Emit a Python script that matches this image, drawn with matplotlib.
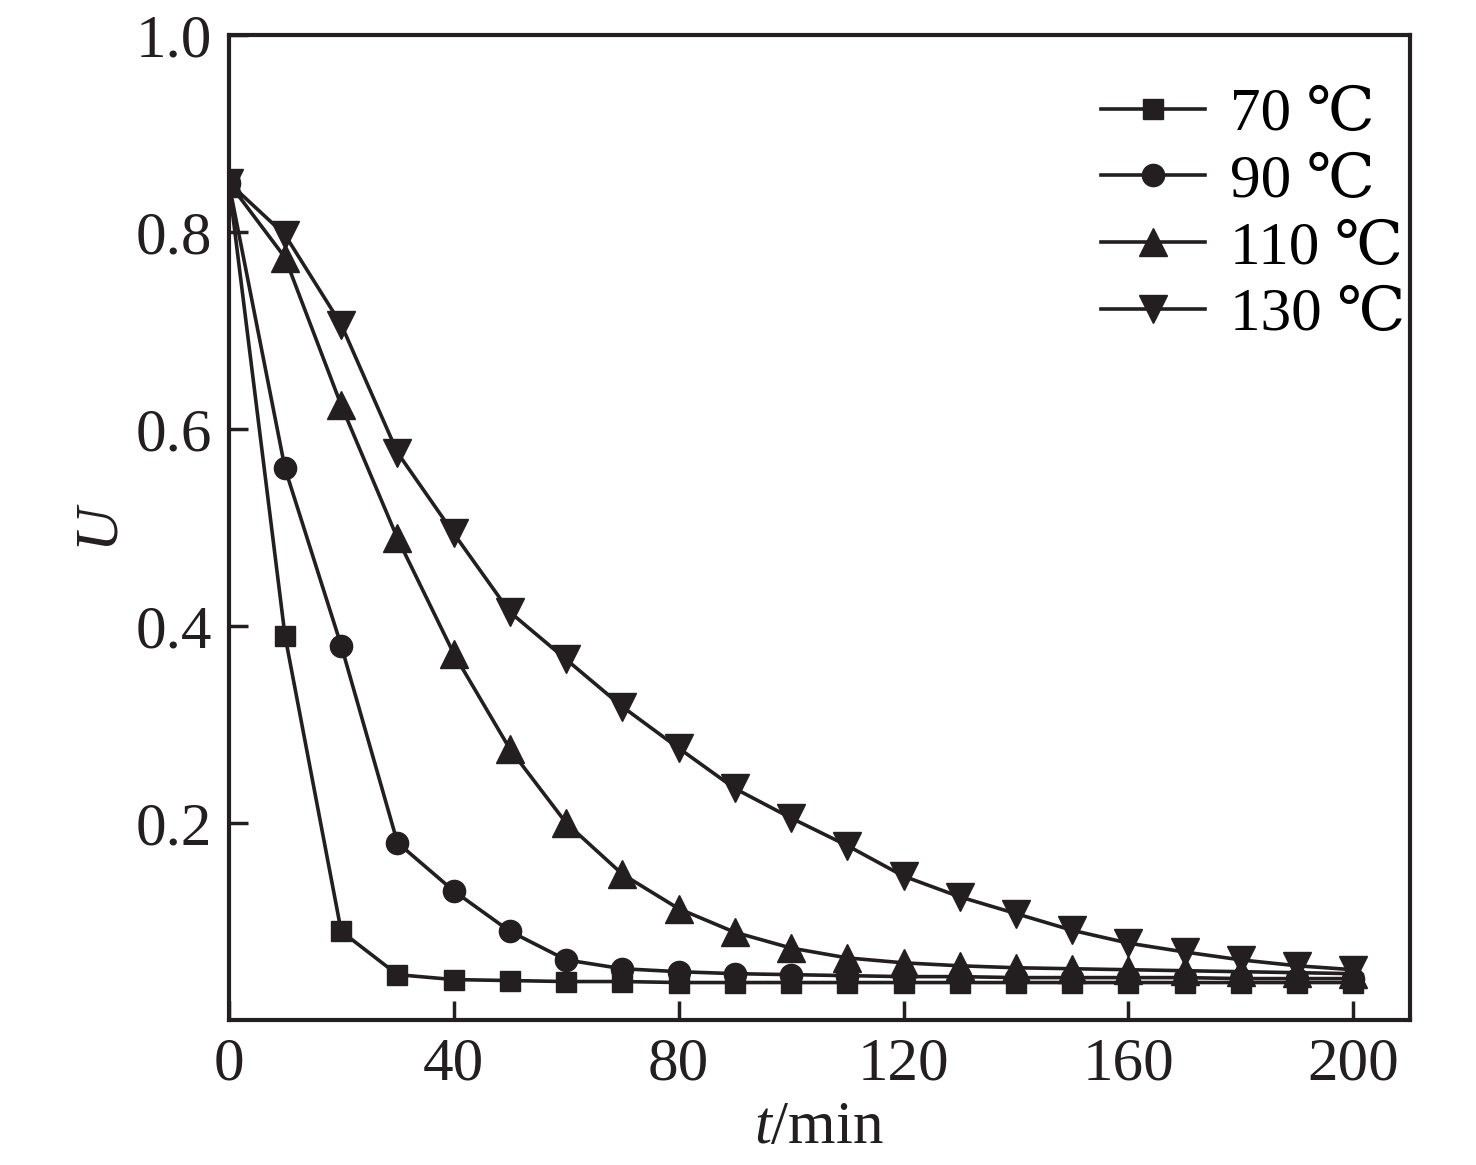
import matplotlib
matplotlib.use("Agg")
import matplotlib.pyplot as plt

plt.rcParams['font.family'] = ['Liberation Serif', 'DejaVu Serif', 'Noto Sans CJK SC']
plt.rcParams['mathtext.fontset'] = 'custom'
plt.rcParams['mathtext.rm'] = 'Liberation Serif'
plt.rcParams['mathtext.it'] = 'Liberation Serif:italic'

t = [0, 10, 20, 30, 40, 50, 60, 70, 80, 90, 100,
     110, 120, 130, 140, 150, 160, 170, 180, 190, 200]

u_70 = [0.85, 0.39, 0.09, 0.046, 0.041, 0.040, 0.039, 0.039, 0.038, 0.038, 0.038,
        0.038, 0.038, 0.038, 0.038, 0.038, 0.038, 0.038, 0.038, 0.038, 0.038]
u_90 = [0.85, 0.56, 0.38, 0.18, 0.131, 0.09, 0.061, 0.052, 0.049, 0.047, 0.046,
        0.045, 0.044, 0.044, 0.043, 0.043, 0.043, 0.043, 0.042, 0.042, 0.042]
u_110 = [0.85, 0.774, 0.624, 0.489, 0.372, 0.275, 0.20, 0.148, 0.113, 0.089, 0.073,
         0.063, 0.058, 0.055, 0.053, 0.052, 0.051, 0.050, 0.049, 0.048, 0.047]
u_130 = [0.85, 0.797, 0.706, 0.576, 0.494, 0.414, 0.366, 0.318, 0.276, 0.235, 0.205,
         0.177, 0.146, 0.125, 0.108, 0.091, 0.078, 0.069, 0.061, 0.055, 0.051]

series = [
    ("70 ℃", u_70, "s", 15),
    ("90 ℃", u_90, "o", 16),
    ("110 ℃", u_110, "^", 20),
    ("130 ℃", u_130, "v", 20),
]

color = "#231f20"

def main():
    fig = plt.figure(figsize=(14.76, 11.65), dpi=100)
    ax = fig.add_axes([0.155, 0.1245, 0.8, 0.8455])

    for label, vals, mk, ms in series:
        ax.plot(t, vals, color=color, lw=2.6, marker=mk, markersize=ms,
                markerfacecolor=color, markeredgecolor=color, label=label)

    ax.set_xlim(0, 210)
    ax.set_ylim(0, 1.0)
    ax.set_xticks([0, 40, 80, 120, 160, 200])
    ax.set_yticks([0.2, 0.4, 0.6, 0.8, 1.0])
    ax.set_yticklabels(["0.2", "0.4", "0.6", "0.8", "1.0"])
    ax.tick_params(direction="in", length=14, width=2.5, labelsize=44,
                   color=color, labelcolor=color, pad=12)
    for sp in ax.spines.values():
        sp.set_linewidth(3)
        sp.set_color(color)

    ax.set_xlabel("$t$/min", fontsize=44, color=color, labelpad=6)
    ax.set_ylabel("$U$", fontsize=44, color=color, labelpad=4)

    ax.legend(loc="upper right", frameon=False, fontsize=44,
              handlelength=1.7, handletextpad=0.4, labelspacing=0.18,
              borderaxespad=0.1, bbox_to_anchor=(1.022, 0.978))

    fig.savefig("out.png", dpi=100)

if __name__ == "__main__":
    main()
